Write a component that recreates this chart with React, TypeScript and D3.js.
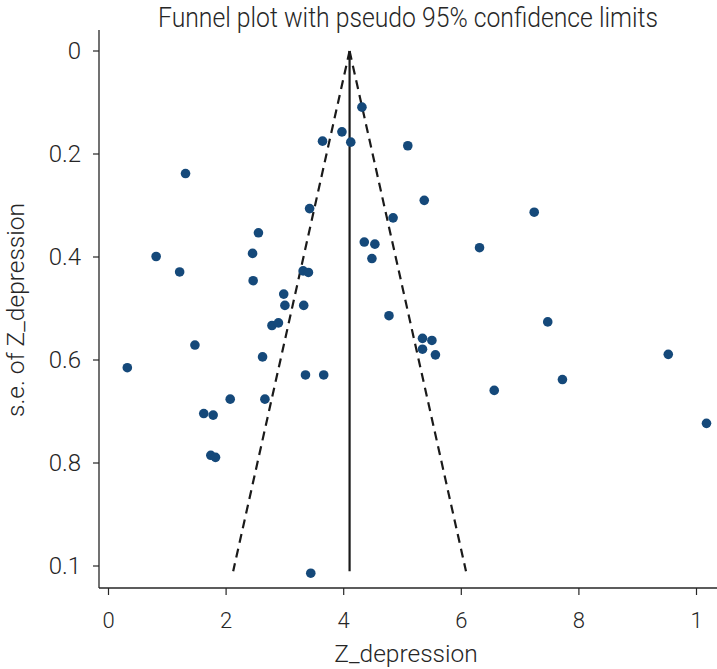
import React from "react";
import * as d3 from "d3";

const TITLE = "Funnel plot with pseudo 95% confidence limits";
const X_TITLE = "Z_depression";
const Y_TITLE = "s.e. of Z_depression";

const xTicks = [0, 2, 4, 6, 8, 10];
const xTickLabels = ["0", "2", "4", "6", "8", "1"];
const yTicks = [0, 0.2, 0.4, 0.6, 0.8, 1.0];
const yTickLabels = ["0", "0.2", "0.4", "0.6", "0.8", "0.1"];

const pooled = 4.1;
const seMax = 1.01;

const effects = [
  4.31, 3.97, 3.64, 4.12, 5.09, 1.31, 3.42, 4.84, 5.37, 7.24,
  2.55, 4.35, 4.53, 4.48, 0.81, 2.45, 1.21, 2.46, 3.31, 3.40,
  6.31, 2.98, 3.00, 3.32, 2.78, 2.89, 4.77, 7.47, 1.47, 5.34,
  5.50, 5.34, 5.56, 2.62, 0.32, 3.35, 3.66, 9.52, 6.56, 7.72,
  2.07, 2.66, 1.62, 1.78, 1.74, 1.82, 10.17, 3.44,
];
const stdErrors = [
  0.109, 0.157, 0.175, 0.177, 0.184, 0.238, 0.306, 0.324, 0.290, 0.313,
  0.353, 0.371, 0.375, 0.403, 0.399, 0.393, 0.429, 0.446, 0.427, 0.430,
  0.382, 0.472, 0.494, 0.494, 0.533, 0.528, 0.514, 0.526, 0.571, 0.558,
  0.562, 0.579, 0.590, 0.594, 0.615, 0.629, 0.629, 0.589, 0.659, 0.638,
  0.676, 0.676, 0.704, 0.707, 0.785, 0.789, 0.723, 1.014,
];

const FONT = "Roboto, 'Liberation Sans', sans-serif";
const INK = "#262626";

export default function App() {
  const W = 717;
  const H = 669;
  const axisLeft = 99;
  const axisBottom = 588;
  const axisTop = 30;

  const x = d3.scaleLinear().domain([0, 10]).range([108.5, 696.5]);
  const y = d3.scaleLinear().domain([0, 1]).range([51, 566]);

  const points = effects.map((e, i) => ({ x: e, se: stdErrors[i] }));
  const line = d3.line<[number, number]>().x((d) => x(d[0])).y((d) => y(d[1]));
  const leftLimit: [number, number][] = [
    [pooled, 0],
    [pooled - 1.96 * seMax, seMax],
  ];
  const rightLimit: [number, number][] = [
    [pooled, 0],
    [pooled + 1.96 * seMax, seMax],
  ];
  const center: [number, number][] = [
    [pooled, 0],
    [pooled, seMax],
  ];

  return (
    <div style={{ position: "fixed", left: 0, top: 0 }}>
      <svg width={W} height={H} style={{ display: "block", background: "#fff" }}>
        <text
          x={408}
          y={27}
          textAnchor="middle"
          fontFamily={FONT}
          fontWeight={300}
          fontSize={27}
          textLength={500}
          lengthAdjust="spacingAndGlyphs"
          fill={INK}
        >
          {TITLE}
        </text>

        {/* axes */}
        <line x1={axisLeft} x2={axisLeft} y1={axisTop} y2={axisBottom} stroke={INK} strokeWidth={1.3} />
        <line x1={axisLeft} x2={W} y1={axisBottom} y2={axisBottom} stroke={INK} strokeWidth={1.3} />

        {yTicks.map((t, i) => (
          <g key={"y" + i}>
            <line x1={axisLeft - 6} x2={axisLeft} y1={y(t)} y2={y(t)} stroke={INK} strokeWidth={1.2} />
            <text
              x={81}
              y={y(t)}
              dy="0.35em"
              textAnchor="end"
              fontFamily={FONT}
              fontWeight={300}
              fontSize={24}
              fill={INK}
            >
              {yTickLabels[i]}
            </text>
          </g>
        ))}

        {xTicks.map((t, i) => (
          <g key={"x" + i}>
            <line x1={x(t)} x2={x(t)} y1={axisBottom} y2={axisBottom + 7} stroke={INK} strokeWidth={1.2} />
            <text
              x={x(t)}
              y={628}
              textAnchor="middle"
              fontFamily={FONT}
              fontWeight={300}
              fontSize={22}
              fill={INK}
            >
              {xTickLabels[i]}
            </text>
          </g>
        ))}

        <text
          x={406}
          y={662}
          textAnchor="middle"
          fontFamily={FONT}
          fontWeight={300}
          fontSize={24.5}
          fill={INK}
        >
          {X_TITLE}
        </text>
        <text
          transform={`translate(24, 310) rotate(-90)`}
          textAnchor="middle"
          fontFamily={FONT}
          fontWeight={300}
          fontSize={24.5}
          fill={INK}
        >
          {Y_TITLE}
        </text>

        {/* funnel */}
        <path d={line(leftLimit) || ""} stroke="#1a1a1a" strokeWidth={2.2} strokeDasharray="9,6" fill="none" />
        <path d={line(rightLimit) || ""} stroke="#1a1a1a" strokeWidth={2.2} strokeDasharray="9,6" fill="none" />
        <path d={line(center) || ""} stroke="#1a1a1a" strokeWidth={2.2} fill="none" />

        {points.map((p, i) => (
          <circle key={i} cx={x(p.x)} cy={y(p.se)} r={4.8} fill="#15497a" />
        ))}
      </svg>
    </div>
  );
}
